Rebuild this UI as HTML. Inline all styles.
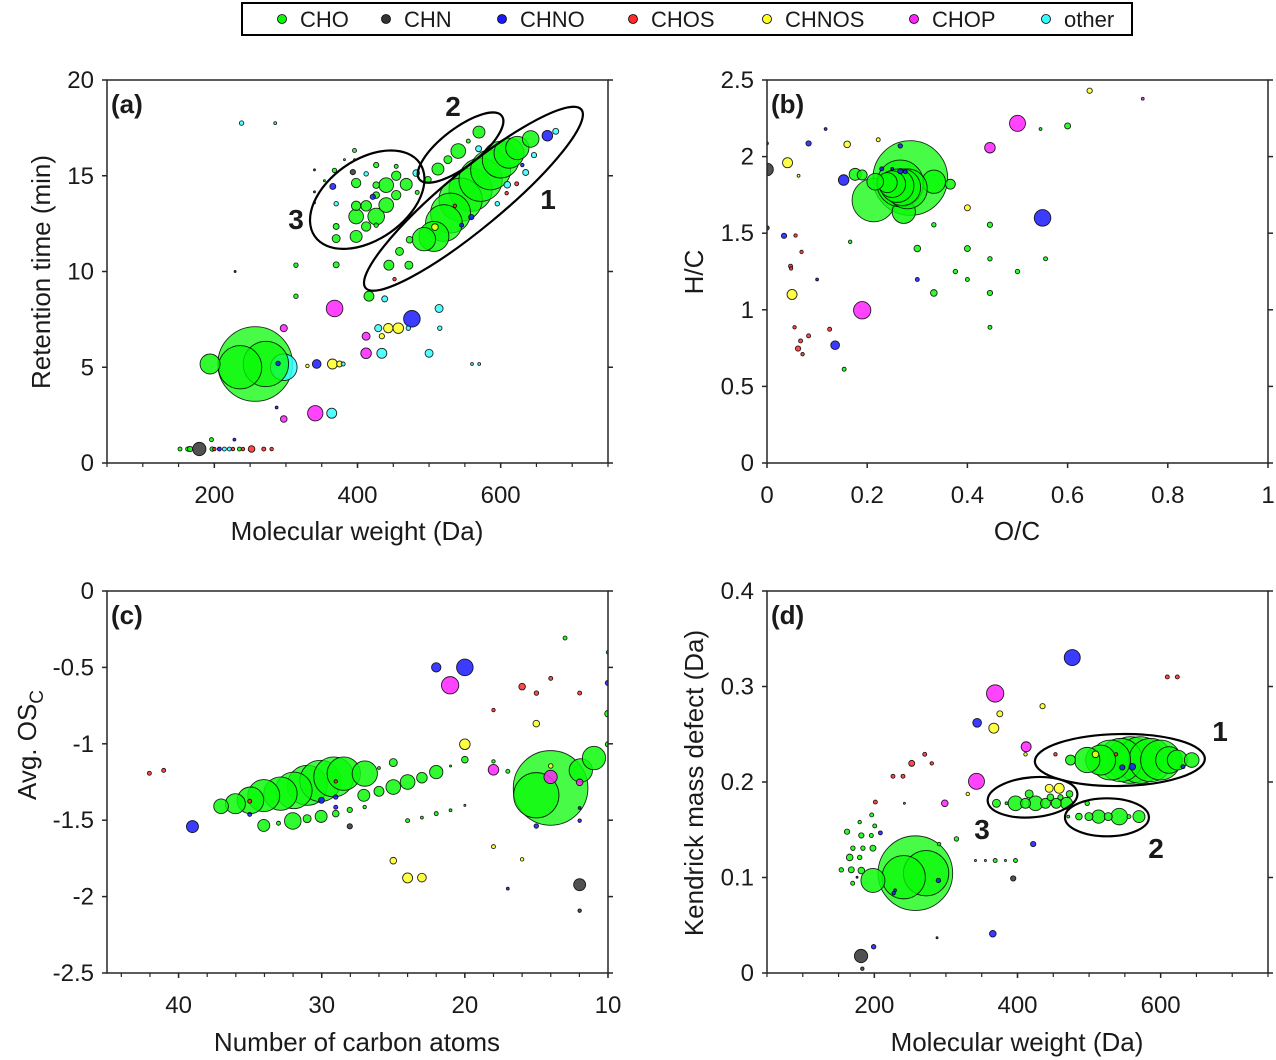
<!DOCTYPE html>
<html><head><meta charset="utf-8">
<style>
html,body{margin:0;padding:0;background:#fff;}
svg{display:block;font-family:"Liberation Sans",Arial,sans-serif;}
</style></head>
<body>
<svg id="fig" width="1276" height="1060" viewBox="0 0 1276 1060" xmlns="http://www.w3.org/2000/svg">
  <g id="legend">
    <rect x="242" y="3" width="890" height="32" fill="#fff" stroke="#000" stroke-width="2"/>
  </g>
</svg>
<script>
// ---- data ----
const classNames = ["CHO","CHN","CHNO","CHOS","CHNOS","CHOP","other"];
const classColors = ["rgb(10,250,10)","#333","#1a1aff","#ff2a2a","#ffff22","#ff22ff","#33ffff"];

const aTicksX = [200,400,600];
const aTicksY = [0,5,10,15,20];
const bTicksX = [0,0.2,0.4,0.6,0.8,1];
const bTicksY = [0,0.5,1,1.5,2,2.5];
const cTicksX = [40,30,20,10];
const cTicksY = [-2.5,-2,-1.5,-1,-0.5,0];
const dTicksX = [200,400,600];
const dTicksY = [0,0.1,0.2,0.3,0.4];

// [x, y, abundance, classIndex]
const panelAPoints = [
[257,5.17,1394,0],[297,5.0,178,6],[272,5.17,514,0],[236,5.0,469,0],[194,5.17,100,0],
[558,14.27,469,0],[544,13.75,469,0],[572,14.79,469,0],[530,13.05,400,0],[586,15.31,400,0],[520.7,12.53,336,0],[600,15.84,336,0],[506.8,11.83,225,0],[611.7,16.18,225,0],[492.8,11.69,136,0],[623.3,16.45,136,0],[642,16.92,69,0],
[443.8,10.33,25,0],[471.8,10.33,16,0],[458.7,11.05,16,0],[472.7,11.66,11,0],
[569.7,17.28,36,0],[540.8,16.29,54,0],[526.3,15.84,16,0],[512.4,15.35,36,0],[498.4,14.79,11,0],[554.8,16.81,4,0],[569.2,16.41,9,6],
[665.3,17.09,28,2],[677,17.32,9,6],[635,15.17,9,6],[646.6,16.08,7,6],[630.3,15.56,3,2],[622.4,14.58,4,3],[608.4,14.09,3,3],[595.3,13.54,5,6],[609.3,14.53,11,6],[508.2,12.32,11,4],[559,12.84,7,2],[545.5,12.42,4,2],[536,13.43,3,3],[451.7,9.6,3,3],
[426.1,12.87,69,0],[440.1,14.51,54,0],[440.1,13.47,54,0],[398.1,12.87,54,0],[468.1,14.55,36,0],[412.1,13.43,28,0],[398.1,11.83,36,0],[398.1,14.62,22,0],[454.1,15.0,22,0],[454.1,13.99,22,0],[398.1,13.43,22,0],[412.1,12.35,22,0],[426.1,14.51,11,0],[426.1,13.99,11,0],[426.1,12.42,5,0],[370.2,11.72,16,0],[370.2,12.35,9,0],[370.2,10.35,9,0],[426.1,15.56,7,0],[454.1,15.49,4,0],[395.8,16.32,4,0],[367.8,15.28,5,0],[482,15.14,11,6],[483.4,14.13,4,0],[421.4,13.9,7,2],[365.5,14.44,9,2],[370.2,13.54,5,6],[412.1,15.1,5,6],[393.5,15.19,7,1],[339.9,15.31,1,1],[339.9,14.16,1,1],[339.9,13.59,1,1],[353.8,14.74,1,0],[381.8,15.84,1,0],[395.8,15.84,1,0],
[368,8.07,69,5],[297,7.04,13,5],[341,2.6,59,5],[364,2.6,25,6],[297,2.3,11,5],[287,2.9,2,2],[343,5.17,19,2],[365,5.17,25,4],[375,5.17,9,4],[380,5.17,4,6],[330,5.07,3,4],[289,5.2,5,2],[476,7.53,69,2],[514,8.07,16,6],[515,7.04,5,6],[429,7.04,13,6],[443,7.04,22,4],[457,7.04,28,4],[471,7.04,5,6],[412,6.62,16,5],[434,6.62,7,4],[412,5.73,28,5],[434,5.73,25,6],[500,5.73,16,6],[560,5.17,2,6],[570,5.17,2,6],[416,8.71,25,0],[438,8.57,9,6],[314,8.71,5,0],[314,10.33,5,0],[229,10.0,1,1],[238,17.75,5,6],[285,17.75,2,6],
[179,0.73,44,1],[152,0.73,4,0],[163,0.73,5,0],[166,0.73,7,0],[197,0.73,5,0],[200,0.73,3,3],[207,0.73,4,2],[214,0.73,4,6],[221,0.73,4,6],[226,0.73,3,3],[235,0.73,4,0],[240,0.73,3,3],[252,0.73,11,3],[269,0.73,4,3],[280,0.73,3,3],[196,1.22,4,0],[228,1.22,2,2]
];

const panelBPoints = [
[.286,1.86,1394,0],[.213,1.716,469,0],[.333,1.836,136,0],[.273,1.64,136,0],[.266,1.825,544,0],[.28,1.79,400,0],[.27,1.80,336,0],[.26,1.81,278,0],[.25,1.82,178,0],[.24,1.83,100,0],[.216,1.836,69,0],[.366,1.82,25,0],[.176,1.884,36,0],[.19,1.88,25,0],[.153,1.847,28,2],[.266,2.07,5,2],[.229,1.92,4,2],[.266,1.905,7,2],[.276,1.902,4,2],[.25,1.92,2,2],
[0,1.916,40,1],[0,2.086,2,1],[0,1.535,5,1],
[.041,1.96,25,4],[.16,2.08,11,4],[.222,2.11,4,4],[.063,1.875,2,4],[.4,1.666,9,4],[.05,1.1,25,4],[.644,2.43,7,4],
[.083,2.086,7,2],[.117,2.18,2,2],[.034,1.483,7,2],[.1,1.198,2,2],[.3,1.198,4,2],[.136,.769,19,2],[.55,1.6,69,2],
[.5,2.217,64,5],[.445,2.058,28,5],[.19,.997,75,5],[.75,2.378,2,5],
[.057,1.485,3,3],[.069,1.378,3,3],[.047,1.285,4,3],[.048,1.27,3,3],[.055,.886,3,3],[.125,.873,4,3],[.083,.83,4,3],[.067,.797,4,3],[.062,.747,7,3],[.071,.71,3,3],
[.166,1.444,3,0],[.154,.612,4,0],[.3,1.4,11,0],[.333,1.555,5,0],[.333,1.11,11,0],[.376,1.25,5,0],[.4,1.4,9,0],[.4,1.198,4,0],[.445,1.555,7,0],[.445,1.333,5,0],[.445,1.11,7,0],[.445,.886,4,0],[.5,1.25,5,0],[.556,1.333,4,0],[.546,2.18,2,0],[.6,2.2,9,0]
];

const panelCPoints = [
[14.01,-1.289,1394,0],[15.01,-1.337,514,0],[11.9,-1.174,136,0],[10.98,-1.093,136,0],
[31.0,-1.272,400,0],[30.09,-1.243,427,0],[29.16,-1.217,400,0],[31.95,-1.305,336,0],[32.88,-1.326,278,0],[34.05,-1.339,256,0],[28.46,-1.195,278,0],[34.98,-1.37,178,0],[26.99,-1.195,160,0],[36.03,-1.392,100,0],[37.03,-1.409,54,0],[27.06,-1.337,36,0],[34.05,-1.534,36,0],[32.02,-1.505,69,0],[31.02,-1.49,16,0],[30.04,-1.475,36,0],[29.02,-1.457,11,0],[28.04,-1.433,7,0],[33.02,-1.52,4,0],[27.0,-1.414,3,0],[26.0,-1.311,25,0],[25.0,-1.283,54,0],[24.0,-1.25,54,0],[23.0,-1.222,28,0],[22.0,-1.185,44,0],[20.0,-1.104,11,0],[25.0,-1.123,16,0],[26.0,-1.158,2,0],[24.0,-1.503,4,0],[23.0,-1.483,2,0],[22.0,-1.457,4,0],[21.0,-1.435,2,0],[20.0,-1.403,1,0],[21,-1.145,1,0],[18.0,-1.115,3,0],[17.0,-1.18,4,0],
[14.01,-1.217,44,5],[18.0,-1.17,28,5],[11.98,-1.252,11,5],[21.03,-0.617,75,5],
[14.0,-1.145,5,4],[20.0,-1.003,28,4],[15.01,-0.868,11,4],[18.0,-1.673,4,4],[16.0,-1.756,3,4],[25.0,-1.765,11,4],[24.0,-1.878,25,4],[23.0,-1.876,19,4],
[39.03,-1.542,36,2],[22.0,-0.5,22,2],[20.0,-0.5,69,2],[35.03,-1.462,4,2],[30.02,-1.37,9,2],[29.02,-1.348,5,2],[29.02,-1.415,4,2],[15.01,-1.538,5,2],[11.98,-1.503,3,2],[11.98,-1.42,2,2],[17.0,-1.948,2,2],[10.0,-0.602,7,2],
[42.04,-1.193,4,3],[41.04,-1.174,4,3],[35.03,-1.376,4,3],[29.02,-1.246,3,3],[16.0,-0.626,11,3],[14.0,-0.572,4,3],[15.0,-0.668,5,3],[11.98,-0.668,4,3],[18.0,-0.779,3,3],
[28.04,-1.54,7,1],[11.98,-1.922,36,1],[11.98,-2.092,3,1],
[13.0,-0.308,4,0],[10.0,-0.401,3,0],[10,-0.803,11,0],[10,-1.003,7,0]
];

const panelDPoints = [
[257.3,.1045,1394,0],[272.3,.1045,514,0],[241,.1003,469,0],[198,.0969,144,0],[289.5,.0969,5,2],[227,.0836,3,2],[229,.0866,2,2],
[558,.223,544,0],[572,.223,544,0],[544.1,.223,469,0],[586,.223,469,0],[530.1,.223,400,0],[600,.223,400,0],[516.1,.223,225,0],[497.4,.223,160,0],[611.7,.223,178,0],[623.3,.223,100,0],[643.4,.223,54,0],[474.1,.223,25,0],
[397.2,.1777,54,0],[425.2,.1777,54,0],[468.5,.1777,36,0],[411.2,.1777,25,0],[439.2,.1777,25,0],[454.1,.1777,25,0],[370.6,.1777,16,0],[384.6,.1777,2,0],[416.3,.1875,16,0],[472.7,.1875,11,0],[446,.184,11,0],[460,.184,7,0],
[542.2,.1638,69,0],[513.3,.1638,44,0],[569.7,.1638,36,0],[499.8,.1638,16,0],[526.8,.1638,16,0],[485.8,.1638,11,0],[470.9,.1638,2,0],[555.7,.1638,4,0],[497.4,.1777,5,0],
[153.8,.108,5,0],[167.8,.108,9,0],[181.8,.1073,11,0],[169.7,.094,4,0],[165.5,.121,11,0],[179.5,.121,5,0],[170,.1307,5,0],[184,.1307,5,0],[198,.1307,9,0],[161.8,.148,7,0],[181.8,.144,7,0],[195.8,.144,4,0],[200.5,.154,4,0],[179.5,.158,3,0],[196.3,.1655,4,0],[208.4,.1467,4,2],[175.8,.1003,1,2],[290.4,.135,3,0],[314.7,.1404,5,0],
[201.4,.179,4,3],[226,.206,4,3],[240,.206,4,3],[252.2,.2195,9,3],[270.4,.229,4,3],[280.2,.2195,3,3],[453,.229,3,3],[537.5,.229,3,3],[609.3,.31,4,3],[623.3,.31,4,3],
[368.8,.2927,75,5],[342.7,.2007,64,5],[298.4,.1777,11,5],[412.1,.2369,25,5],[242,.1777,1,5],
[375.3,.2714,9,4],[366.9,.2564,25,4],[435,.2794,7,4],[330.5,.1875,3,4],[411.2,.229,3,4],[509,.229,11,4],[444.3,.1934,16,4],[458.3,.1934,25,4],
[476.5,.3303,64,2],[343.6,.262,19,2],[421.9,.135,7,2],[365.5,.0411,11,2],[199,.0275,5,2],[287.6,.0369,1,2],[546.4,.2153,7,2],[560.4,.216,11,2],[631.2,.216,4,2],
[181.4,.0178,44,1],[183.2,.0045,3,1],[394,.099,7,1],
[341.3,.1178,1,0],[355.2,.1178,1,0],[368.8,.1178,4,0],[383.2,.1178,1,0],[397.2,.1178,4,0]
];

// group ellipses: [centerX, centerY] in data units
const aGroupCenters = [[562,13.8],[544,16.47],[413.6,13.75]];
const dGroupCenters = [[543,0.223],[525,0.163],[421,0.184]];

// ---- drawing ----
const NS = "http://www.w3.org/2000/svg";
const svg = document.getElementById("fig");
function mk(tag, attrs, parent){
  const e = document.createElementNS(NS, tag);
  for (const k in attrs) e.setAttribute(k, attrs[k]);
  (parent||svg).appendChild(e);
  return e;
}
function lin(d0,d1,r0,r1){ return v => r0 + (v-d0)/(d1-d0)*(r1-r0); }

function txt(x,y,s,size,anchor,parent,weight){
  const t = mk("text",{x:x,y:y,"font-size":size,"text-anchor":anchor||"middle",fill:"#1a1a1a","font-weight":weight||"normal"},parent);
  t.textContent = s;
  return t;
}

function panel(id, box, xd, yd, pts, xticks, yticks, minorX, fmtX, fmtY, letter){
  const g = mk("g",{});
  
  
  const sx = lin(xd[0],xd[1],box.x0,box.x1);
  const sy = lin(yd[0],yd[1],box.y1,box.y0);
  const clipId = "clip"+id;
  const cp = mk("clipPath",{id:clipId},g);
  mk("rect",{x:box.x0,y:box.y0,width:box.x1-box.x0,height:box.y1-box.y0},cp);
  const pg = mk("g",{"clip-path":"url(#"+clipId+")"},g);
  
  
  pts.forEach(p=>{
    const c = mk("circle",{cx:sx(p[0]),cy:sy(p[1]),r:Math.sqrt(p[2]),fill:classColors[p[3]],"fill-opacity":p[2]>300?0.75:0.85,stroke:"#000","stroke-width":0.9,"stroke-opacity":0.85},pg);
    
    
  });
  const ax = mk("rect",{x:box.x0,y:box.y0,width:box.x1-box.x0,height:box.y1-box.y0,fill:"none",stroke:"#262626","stroke-width":1.5},g);
  
  
  xticks.forEach(v=>{
    const x = sx(v);
    mk("line",{x1:x,x2:x,y1:box.y1,y2:box.y1+5,stroke:"#262626","stroke-width":1.5},g);
    const t = txt(x,box.y1+40,fmtX(v),24,"middle",g);
    
    
  });
  minorX.forEach(v=>{
    const x = sx(v);
    mk("line",{x1:x,x2:x,y1:box.y1,y2:box.y1+4,stroke:"#262626","stroke-width":1.2},g);
  });
  yticks.forEach(v=>{
    const y = sy(v);
    mk("line",{x1:box.x0-5,x2:box.x0,y1:y,y2:y,stroke:"#262626","stroke-width":1.5},g);
    mk("line",{x1:box.x1,x2:box.x1+5,y1:y,y2:y,stroke:"#262626","stroke-width":1.5},g);
    const t = txt(box.x0-13,y+8,fmtY(v),24,"end",g);
    
    
  });
  const L = txt(box.x0+4,box.y0+33,letter,26,"start",g,"bold");
  
  
  return {sx,sy,g};
}
function rng(a,b,s){const r=[];for(let v=a;v<=b+1e-9;v+=s)r.push(+v.toFixed(6));return r;}
const fmt = v => String(v);

const A = panel("a",{x0:107,x1:608,y0:80,y1:463},[50,750],[0,20],panelAPoints,aTicksX,aTicksY,rng(50,750,50),fmt,fmt,"(a)");
const B = panel("b",{x0:767,x1:1268,y0:80,y1:463},[0,1],[0,2.5],panelBPoints,bTicksX,bTicksY,[],fmt,fmt,"(b)");
const C = panel("c",{x0:107,x1:608,y0:591,y1:973},[45,10],[-2.5,0],panelCPoints,cTicksX,cTicksY,rng(10,44,2),fmt,fmt,"(c)");
const D = panel("d",{x0:767,x1:1268,y0:591,y1:973},[50,750],[0,0.4],panelDPoints,dTicksX,dTicksY,rng(50,750,50),fmt,fmt,"(d)");

const aEll = [[140,29,-39.6],[52,19,-37.6],[64,40,-35]];
aGroupCenters.forEach((c,i)=>{
  const x=A.sx(c[0]), y=A.sy(c[1]);
  const e = mk("ellipse",{cx:x,cy:y,rx:aEll[i][0],ry:aEll[i][1],fill:"none",stroke:"#000","stroke-width":2.2,transform:`rotate(${aEll[i][2]} ${x} ${y})`},A.g);
  
  
});
const dEll = [[85,26,-1],[42,19,0],[45,20,-5]];
dGroupCenters.forEach((c,i)=>{
  const x=D.sx(c[0]), y=D.sy(c[1]);
  const e = mk("ellipse",{cx:x,cy:y,rx:dEll[i][0],ry:dEll[i][1],fill:"none",stroke:"#000","stroke-width":2.2,transform:`rotate(${dEll[i][2]} ${x} ${y})`},D.g);
  
  
});
[["1",548,209],["2",453,116],["3",296,229],["1",1220,741],["2",1156,858],["3",982,839]].forEach(l=>{
  const t = txt(l[1],l[2],l[0],28,"middle",svg,"bold");
  
  
});

function title(x,y,s,rot,name){
  const t = txt(x,y,s,26,"middle",svg);
  if(rot) t.setAttribute("transform",`rotate(-90 ${x} ${y})`);
  
  
  return t;
}
title(357,540,"Molecular weight (Da)",false,"x-axis-title-a");
title(1017,540,"O/C",false,"x-axis-title-b");
title(357,1051,"Number of carbon atoms",false,"x-axis-title-c");
title(1017,1051,"Molecular weight (Da)",false,"x-axis-title-d");
title(50,272,"Retention time (min)",true,"y-axis-title-a");
title(703,272,"H/C",true,"y-axis-title-b");
title(703,783,"Kendrick mass defect (Da)",true,"y-axis-title-d");
const yc = txt(36,745,"",26,"middle",svg);
yc.setAttribute("transform","rotate(-90 36 745)");


const ts1 = mk("tspan",{},yc); ts1.textContent="Avg. OS";
const ts2 = mk("tspan",{"font-size":19,dy:7},yc); ts2.textContent="C";

const legX = [282,386,502,633,767,914,1046];
const leg = document.getElementById("legend");
classNames.forEach((n,i)=>{
  const m = mk("circle",{cx:legX[i],cy:19,r:4.5,fill:classColors[i],stroke:"#000","stroke-width":0.8},leg);
  
  
  const t = txt(legX[i]+18,27,n,22,"start",leg);
  
  
});
</script>
</body></html>
